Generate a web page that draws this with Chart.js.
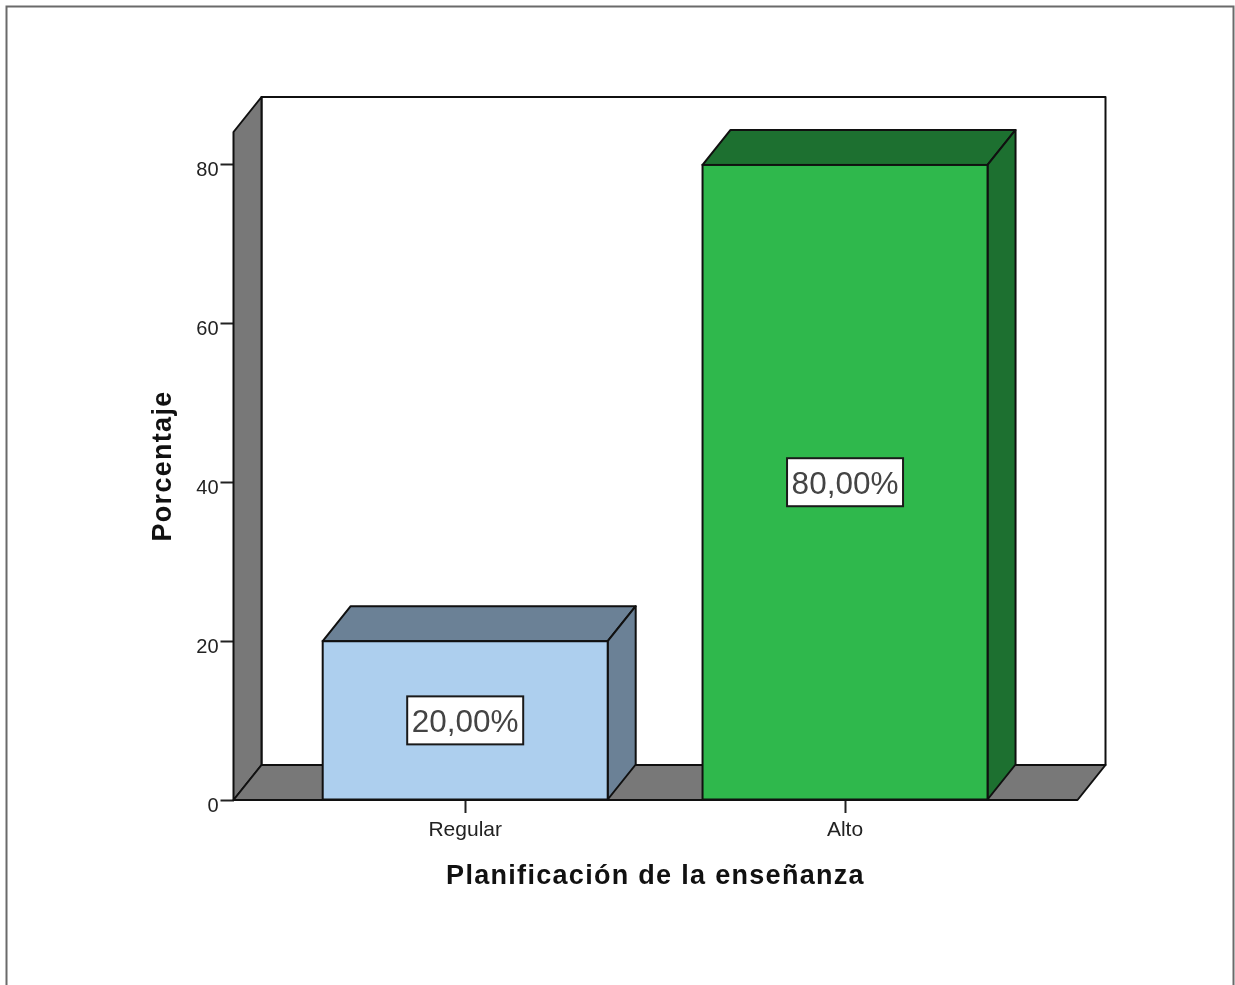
<!DOCTYPE html>
<html lang="es">
<head>
<meta charset="utf-8">
<title>Planificación de la enseñanza</title>
<script src="https://cdn.jsdelivr.net/npm/chart.js@4/dist/chart.umd.min.js"></script>
<style>
  html, body { margin: 0; padding: 0; background: #fff; overflow: hidden; }
  canvas { display: block; }
</style>
</head>
<body>
<canvas id="chart" width="1235" height="985"></canvas>
<script>
// Data
const categories = ['Regular', 'Alto'];
const percentages = [20, 80];
const yTickValues = [0, 20, 40, 60, 80];
const xAxisTitle = 'Planificación de la enseñanza';
const yAxisTitle = 'Porcentaje';

// Colors
const frontColors = ['#adcfee', '#2fb84c'];
const sideColors = ['#6b8196', '#1d7030'];
const wallColor = '#787878';
const lineColor = '#101010';

// Depth of the fake 3D box
const depthX = 28;
const depthY = 35;

function polygon(ctx, points, fill) {
  ctx.beginPath();
  points.forEach((p, i) => (i === 0 ? ctx.moveTo(p[0], p[1]) : ctx.lineTo(p[0], p[1])));
  ctx.closePath();
  if (fill) {
    ctx.fillStyle = fill;
    ctx.fill();
  }
  ctx.stroke();
}

// Axis titles are wider spaced than the plain font
const baseDrawTitle = Chart.Scale.prototype.drawTitle;
Chart.Scale.prototype.drawTitle = function (...args) {
  this.ctx.save();
  this.ctx.letterSpacing = '1.3px';
  baseDrawTitle.apply(this, args);
  this.ctx.restore();
};

const boxPlugin = {
  id: 'box3d',
  beforeDraw(chart) {
    const ctx = chart.ctx;
    ctx.save();
    ctx.strokeStyle = '#6a6a6a';
    ctx.lineWidth = 2;
    ctx.strokeRect(6.5, 6.5, 1227, 1000);
    ctx.restore();
  },
  beforeDatasetsDraw(chart) {
    const ctx = chart.ctx;
    const { left, right, top, bottom } = chart.chartArea;

    ctx.save();
    ctx.strokeStyle = lineColor;
    ctx.lineWidth = 2;
    ctx.lineJoin = 'round';

    // back wall, left wall, floor
    polygon(ctx, [[left + depthX, top - depthY], [right + depthX, top - depthY], [right + depthX, bottom - depthY], [left + depthX, bottom - depthY]], '#ffffff');
    polygon(ctx, [[left, top], [left + depthX, top - depthY], [left + depthX, bottom - depthY], [left, bottom]], wallColor);
    polygon(ctx, [[left, bottom], [left + depthX, bottom - depthY], [right + depthX, bottom - depthY], [right, bottom]], wallColor);

    // top and side faces of the bars
    chart.getDatasetMeta(0).data.forEach((bar, i) => {
      const xl = bar.x - bar.width / 2;
      const xr = bar.x + bar.width / 2;
      polygon(ctx, [[xl, bar.y], [xl + depthX, bar.y - depthY], [xr + depthX, bar.y - depthY], [xr, bar.y]], sideColors[i]);
      polygon(ctx, [[xr, bar.y], [xr + depthX, bar.y - depthY], [xr + depthX, bar.base - depthY], [xr, bar.base]], sideColors[i]);
    });
    ctx.restore();
  },
  afterDatasetsDraw(chart) {
    const ctx = chart.ctx;
    ctx.save();
    ctx.font = '31.5px "Liberation Sans"';
    ctx.textAlign = 'center';
    ctx.textBaseline = 'middle';
    chart.getDatasetMeta(0).data.forEach((bar, i) => {
      const cy = (bar.y + bar.base) / 2;
      const text = percentages[i].toFixed(2).replace('.', ',') + '%';

      // front outline on top of the library's bar
      ctx.strokeStyle = lineColor;
      ctx.lineWidth = 2;
      ctx.strokeRect(bar.x - bar.width / 2, bar.y, bar.width, bar.base - bar.y);

      ctx.fillStyle = '#ffffff';
      ctx.strokeStyle = '#1a1a1a';
      ctx.fillRect(bar.x - 58, cy - 24, 116, 48);
      ctx.strokeRect(bar.x - 58, cy - 24, 116, 48);
      ctx.fillStyle = '#444444';
      ctx.fillText(text, bar.x, cy + 3);
    });
    ctx.restore();
  }
};

new Chart(document.getElementById('chart'), {
  type: 'bar',
  plugins: [boxPlugin],
  data: {
    datasets: [{
      data: percentages.map((v, i) => ({ x: i, y: v })),
      backgroundColor: frontColors,
      borderWidth: 0,
      barThickness: 285
    }]
  },
  options: {
    responsive: false,
    animation: false,
    layout: { padding: { top: 132, right: 157.5, left: 0, bottom: 0 } },
    plugins: {
      legend: { display: false },
      tooltip: { enabled: false }
    },
    scales: {
      x: {
        type: 'linear',
        min: -0.61,
        max: 1.612,
        offset: false,
        afterFit: (scale) => { scale.height = 185; },
        afterBuildTicks: (scale) => { scale.ticks = categories.map((c, i) => ({ value: i })); },
        grid: { offset: false, drawOnChartArea: false, tickLength: 13, tickColor: '#222222', tickWidth: 2 },
        border: { display: false },
        ticks: {
          callback: (v) => categories[v],
          autoSkip: false,
          maxRotation: 0,
          padding: 5,
          color: '#222222',
          font: { family: 'Liberation Sans', size: 21 }
        },
        title: {
          display: true,
          text: xAxisTitle,
          color: '#111111',
          font: { family: 'Liberation Sans', size: 27, weight: 'bold', lineHeight: 1 },
          padding: { top: 0, bottom: 95 }
        }
      },
      y: {
        min: 0,
        max: 84.15,
        afterFit: (scale) => { scale.width = 233.5; },
        afterBuildTicks: (scale) => { scale.ticks = yTickValues.map((v) => ({ value: v })); },
        grid: { drawOnChartArea: false, tickLength: 13, tickColor: '#222222', tickWidth: 2 },
        border: { display: false },
        ticks: {
          padding: 2,
          labelOffset: 6,
          color: '#222222',
          font: { family: 'Liberation Sans', size: 20 }
        },
        title: {
          display: true,
          text: yAxisTitle,
          color: '#111111',
          font: { family: 'Liberation Sans', size: 27, weight: 'bold', lineHeight: 1 },
          padding: { top: 150, bottom: 0 }
        }
      }
    }
  }
});
</script>
</body>
</html>
